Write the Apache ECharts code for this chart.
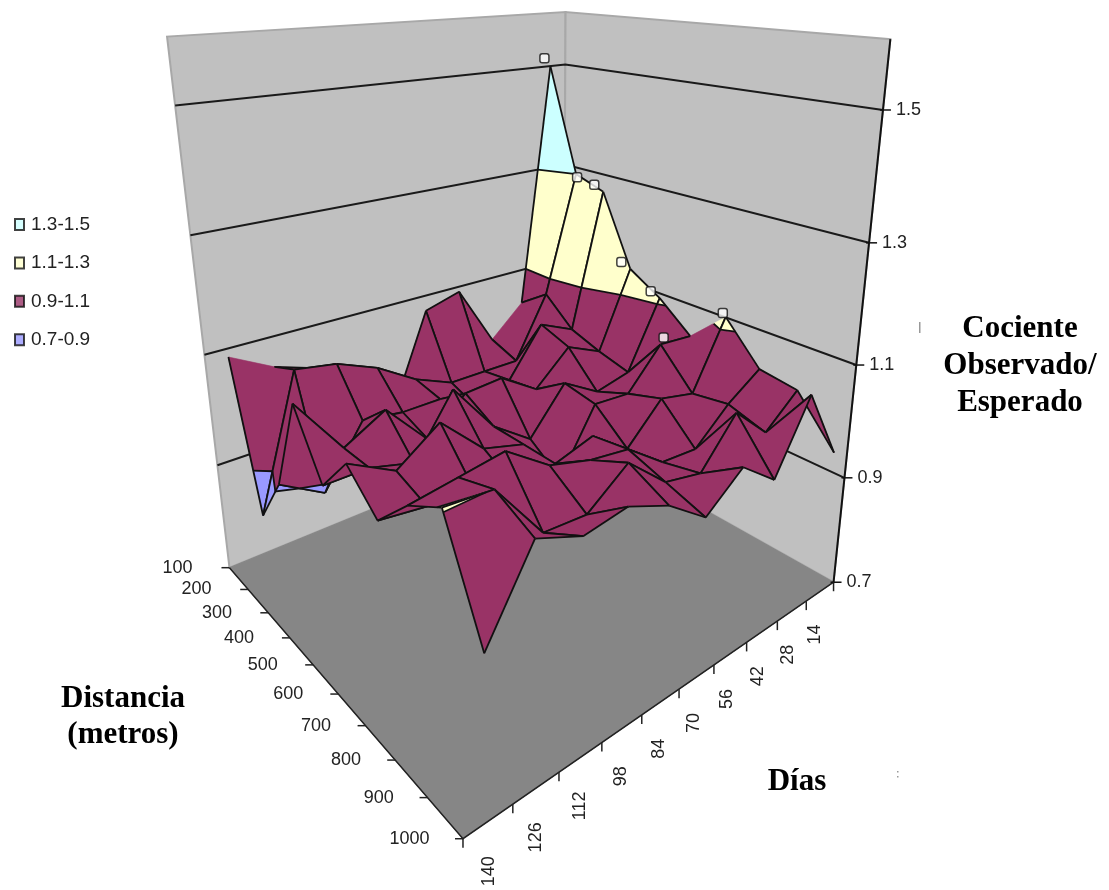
<!DOCTYPE html><html><body style="margin:0;background:#fff"><div id="c" style="width:1109px;height:890px"></div>
<script src="https://cdn.jsdelivr.net/npm/echarts@6/dist/echarts.min.js"></script>
<script>
// ---- data ----
const distances=['100','200','300','400','500','600','700','800','900','1000'];
const days=['14','28','42','56','70','84','98','112','126','140'];
const zTicks=[0.7,0.9,1.1,1.3,1.5];
const d100=[1.50,1.03,.97,1.09,1.07,.90,.98,1.02,1.045,1.085];
const d200=[1.30,1.07,.95,.95,.95,.98,1.025,1.055,1.067,.826];
const d300=[1.28,1.02,1.05,.96,.93,.97,.97,.98,.875,.92];
const d400=[1.146,1.0,1.03,.97,1.015,1.01,.95,1.03,.99,1.09];
const d500=[1.11,.985,.97,1.01,.93,.98,1.07,.97,.99,.99];
const d600=[1.06,1.065,.995,1.0,.89,.98,1.0,1.07,1.02,1.06];
const d700=[1.12,1.0,1.015,.95,1.0,.98,.97,1.0,1.0,1.01];
const d800=[1.05,1.01,.955,.96,1.01,1.02,1.04,1.09,1.08,1.07];
const d900=[1.04,.99,1.05,.975,.99,1.05,1.0,1.005,1.099,1.105];
const d1000=[.96,1.085,.97,1.02,.97,1.02,1.05,1.04,1.07,.95];
const Z=[d100,d200,d300,d400,d500,d600,d700,d800,d900,d1000];
const bands=[[.7,.9,'#9999FF','0.7-0.9'],[.9,1.1,'#993366','0.9-1.1'],[1.1,1.3,'#FFFFCC','1.1-1.3'],[1.3,1.6,'#CCFFFF','1.3-1.5']];
const markers=[[0,0,-6,-8],[1,0,1,3],[2,0,-9,-7],[3,0,-9,-7],[4,0,-9,-7],[6,0,-3,-4],[5,1,3,-7]];
// ---- projection of the 3D box ----
const zMin=.7,zMax=1.6;
const anchors=[[0,1,0,228,566],[0,1,1,168,38],[0,0,0,565,431],[0,0,1,565,10],[1,0,0,832,582],[1,0,1,891,39],[1,1,0,465,840],
[0,1,.6667,190,235],[1,0,.6667,868,242],[0,0,.6667,565,167],[0,1,.2222,217,465],[1,0,.2222,845,478]];
function solve(pts){const A=[],b=[];pts.forEach(([u,v,w,x,y])=>{A.push([u,v,w,1,0,0,0,0,-x*u,-x*v,-x*w]);b.push(x);A.push([0,0,0,0,u,v,w,1,-y*u,-y*v,-y*w]);b.push(y);});
const n=11,M=[];for(let i=0;i<n;i++){M.push(new Array(n+1).fill(0));for(let r=0;r<A.length;r++){for(let j=0;j<n;j++)M[i][j]+=A[r][i]*A[r][j];M[i][n]+=A[r][i]*b[r];}}
for(let i=0;i<n;i++){let p=i;for(let r=i;r<n;r++)if(Math.abs(M[r][i])>Math.abs(M[p][i]))p=r;[M[i],M[p]]=[M[p],M[i]];for(let r=0;r<n;r++)if(r!=i){const f=M[r][i]/M[i][i];for(let c=i;c<=n;c++)M[r][c]-=f*M[i][c];}}
return M.map((r,i)=>r[n]/r[i]);}
const h=solve(anchors);
function P(u,v,w){const d=h[8]*u+h[9]*v+h[10]*w+1;return[(h[0]*u+h[1]*v+h[2]*w+h[3])/d,(h[4]*u+h[5]*v+h[6]*w+h[7])/d];}
const W=z=>(z-zMin)/(zMax-zMin);
const U=i=>i/9, V=j=>(j+.5)/10;
const vtx=(i,j)=>[U(i),V(j),Z[i][j]];
const S=q=>P(q[0],q[1],W(q[2]));
function clipZ(poly,lim,keepAbove){const out=[];const inside=q=>keepAbove?q[2]>=lim:q[2]<=lim;
 for(let k=0;k<poly.length;k++){const a=poly[k],b=poly[(k+1)%poly.length];
  if(inside(a))out.push(a);
  if(inside(a)!==inside(b)){const t=(lim-a[2])/(b[2]-a[2]);out.push([a[0]+t*(b[0]-a[0]),a[1]+t*(b[1]-a[1]),lim]);}}
 return out;}
const skipBack=new Set([1,8]);
const cells=[];for(let i=0;i<9;i++)for(let j=0;j<9;j++)cells.push([i,j]);
const line=(pts,color,w)=>({type:'polyline',silent:true,shape:{points:pts},style:{stroke:color,lineWidth:w,fill:null}});
function renderCell(params,api){
 const i=api.value(0),j=api.value(1);const ch=[];const C=p=>api.coord(p);
 const q=[vtx(i,j),vtx(i+1,j),vtx(i+1,j+1),vtx(i,j+1)];
 bands.forEach(([lo,hi,col])=>{let p=clipZ(clipZ(q,lo,true),hi,false);
  if(p.length>=3){ch.push({type:'polygon',silent:true,shape:{points:p.map(S).map(C)},style:{fill:col,stroke:col,lineWidth:.6}});
   if(lo>.7){const seg=p.filter(a=>a[2]===lo);if(seg.length>=2)ch.push(line(seg.map(S).map(C),'#111',1.8));}}});
 for(let k=0;k<4;k++){if(k===3&&i===0&&skipBack.has(j))continue;if(k===0&&j===0&&i===5)continue;
  ch.push(line([q[k],q[(k+1)%4]].map(S).map(C),'#111',1.8));}
 return {type:'group',children:ch};
}
const frameItems=[['walls']];
function renderFrame(params,api){
 const C=p=>api.coord(p);const ch=[];
 const poly=(a,f,s,lw)=>({type:'polygon',silent:true,shape:{points:a.map(C)},style:{fill:f,stroke:s,lineWidth:lw}});
 ch.push(poly([P(0,1,0),P(0,1,1),P(0,0,1),P(0,0,0)],'#C0C0C0','#A8A8A8',2));
 ch.push(poly([P(0,0,0),P(0,0,1),P(1,0,1),P(1,0,0)],'#C0C0C0','#A8A8A8',2));
 ch.push(poly([P(0,1,0),P(0,0,0),P(1,0,0),P(1,1,0)],'#868686','#868686',1));
 zTicks.slice(1).forEach(z=>{const w=W(z);ch.push(line([P(0,1,w),P(0,0,w),P(1,0,w)].map(C),'#1a1a1a',2));});
 ch.push(line([P(1,0,1),P(1,0,0)].map(C),'#111',2));
 ch.push(line([P(0,1,0),P(1,1,0),P(1,0,0)].map(C),'#222',1.5));
 zTicks.forEach(z=>{const p=P(1,0,W(z));ch.push(line([[p[0]-3,p[1]],[p[0]+8,p[1]]].map(C),'#111',1.5));
  ch.push({type:'text',silent:true,style:{text:z.toFixed(1),x:C([p[0]+13,p[1]])[0],y:C(p)[1],font:'18px "Liberation Sans"',fill:'#222',textAlign:'left',textVerticalAlign:'middle'}});});
 distances.forEach((t,i)=>{const p=P(U(i),1,0);ch.push(line([[p[0]-8,p[1]],p].map(C),'#222',1.5));
  ch.push({type:'text',silent:true,style:{text:t,x:C([p[0]-37+i*.4,0])[0],y:C(p)[1],font:'18px "Liberation Sans"',fill:'#222',textAlign:'right',textVerticalAlign:'middle'}});});
 for(let k=0;k<=10;k++){const p=P(1,k/10,0);ch.push(line([p,[p[0],p[1]+9]].map(C),'#222',1.5));}
 days.forEach((t,j)=>{const p=P(1,V(j),0);const c=C([p[0]-5+j*.6,p[1]+43+j*.8]);
  ch.push({type:'text',silent:true,rotation:Math.PI/2,x:c[0],y:c[1],style:{text:t,x:0,y:0,font:'18px "Liberation Sans"',fill:'#222',textAlign:'center',textVerticalAlign:'middle'}});});
 return {type:'group',children:ch};
}
const titleFont='bold 31px "Liberation Serif"';
const title=(text,x,y)=>({type:'text',x,y,style:{text,font:titleFont,fill:'#000',textAlign:'center',textVerticalAlign:'middle'}});
const ch=echarts.init(document.getElementById('c'));
ch.setOption({animation:false,backgroundColor:'#fff',
 grid:{left:0,right:0,top:0,bottom:0},
 xAxis:{type:'value',min:0,max:1109,show:false},
 yAxis:{type:'value',min:0,max:890,inverse:true,show:false},
 legend:{orient:'vertical',left:9,top:210,itemGap:19.4,itemWidth:9,itemHeight:11,icon:'rect',selectedMode:false,
  data:['1.3-1.5','1.1-1.3','0.9-1.1','0.7-0.9'],textStyle:{fontSize:19,color:'#222',fontFamily:'Liberation Sans',padding:[0,0,0,2]}},
 graphic:[title('Cociente',1020,329),title('Observado/',1020,366),title('Esperado',1020,403),
  title('Distancia',123,699),title('(metros)',123,735),title('Días',797,782),
  {type:'rect',shape:{x:919,y:322,width:1.5,height:11},style:{fill:'#999'}},
  {type:'rect',shape:{x:897,y:771,width:1.5,height:1.5},style:{fill:'#999'}},
  {type:'rect',shape:{x:897,y:776,width:1.5,height:1.5},style:{fill:'#999'}}],
 series:[
  {type:'custom',name:'frame',coordinateSystem:'cartesian2d',clip:false,silent:true,data:frameItems.map((d,k)=>[k,0]),renderItem:renderFrame,encode:{x:0,y:1},z:1},
  {type:'custom',name:'surface',coordinateSystem:'cartesian2d',clip:false,silent:true,data:cells,renderItem:renderCell,encode:{x:0,y:1},z:2},
  {type:'scatter',name:'puntos',coordinateSystem:'cartesian2d',silent:true,symbol:'roundRect',symbolSize:9,z:3,
   data:markers.map(([i,j,dx,dy])=>{const p=S(vtx(i,j));return [p[0]+dx,p[1]+dy];}),itemStyle:{color:'#fff',borderColor:'#111',borderWidth:1.5}},
  ...bands.map(b=>({type:'scatter',name:b[3],data:[],itemStyle:{color:b[2],borderColor:'#111',borderWidth:1.5}}))
 ]});
</script></body></html>
